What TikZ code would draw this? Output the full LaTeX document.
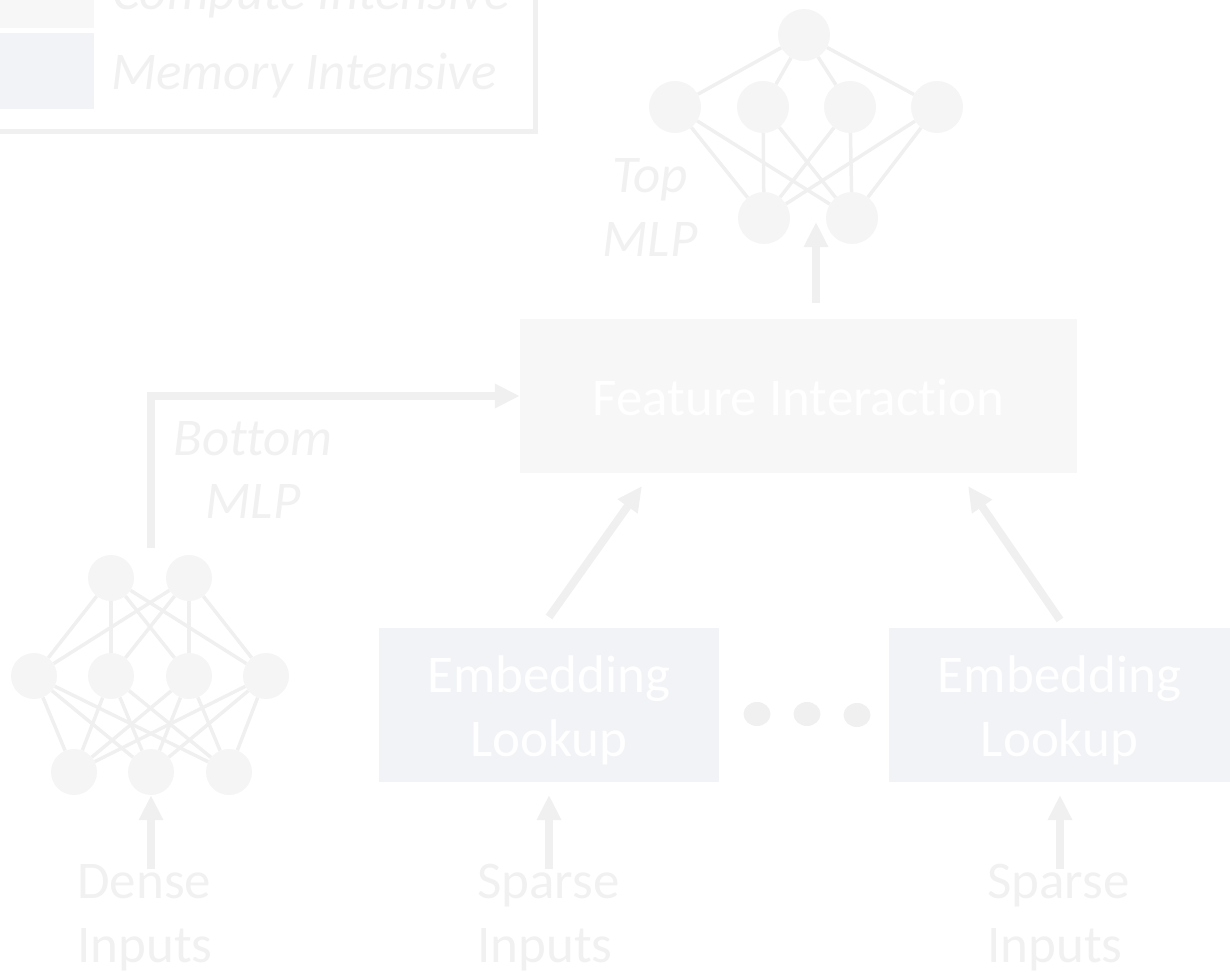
\documentclass[tikz,border=0pt]{standalone}
\usepackage{fontspec}
\setmainfont[Ligatures=CommonOff]{Carlito}
\usetikzlibrary{arrows.meta,shapes.geometric}
\definecolor{cmpfill}{HTML}{F7F7F7}
\definecolor{memfill}{HTML}{F2F3F6}
\definecolor{linecol}{HTML}{F0F0F0}
\definecolor{nodecol}{HTML}{F5F5F5}
\definecolor{txtcol}{HTML}{F1F1F1}
\begin{document}
\begin{tikzpicture}[x=1pt,y=-1pt,
  lbl/.style={font=\fontsize{53}{64}\selectfont, text=txtcol, inner sep=0pt, anchor=base west},
  ilbl/.style={lbl, font=\fontsize{53}{64}\selectfont\itshape},
  neuron/.style={circle, fill=nodecol, minimum size=52pt, inner sep=0pt},
  sneuron/.style={neuron, minimum size=46pt},
  syn/.style={draw=linecol, line width=3.5pt},
  arr/.style={draw=linecol, line width=8pt, -{Triangle[length=25pt,width=23pt]}},
  blockbox/.style={rectangle, inner sep=0pt, minimum height=154pt},
  boxtxt/.style={inner sep=0pt, text=white, font=\fontsize{53}{64}\selectfont, align=center},
  legbox/.style={rectangle, inner sep=0pt, minimum width=94pt, minimum height=76pt},
  dotn/.style={ellipse, fill=linecol, minimum width=27pt, minimum height=24pt, inner sep=0pt}
]
\useasboundingbox (0,0) rectangle (1230,971);

% legend
\node[legbox, fill=cmpfill] (legc) at (47,-10) {};
\node[legbox, fill=memfill] (legm) at (47,71) {};
\node[ilbl] (legct) at (112,10) {Compute Intensive};
\node[ilbl] (legmt) at (111,90) {Memory Intensive};
\draw[draw=linecol, line width=5pt] (-20,-200) rectangle (535,131);

% top MLP
\node[neuron] (t0) at (804,35) {};
\node[neuron] (t1) at (675,107) {};
\node[neuron] (t2) at (763,107) {};
\node[neuron] (t3) at (850,107) {};
\node[neuron] (t4) at (937,107) {};
\node[neuron] (t5) at (764,218) {};
\node[neuron] (t6) at (852,218) {};
\foreach \m in {t1,t2,t3,t4} \draw[syn] (t0) -- (\m);
\foreach \m in {t1,t2,t3,t4} \foreach \b in {t5,t6} \draw[syn] (\m) -- (\b);
\node[ilbl, anchor=base] (toplbl1) at (650,192) {Top};
\node[ilbl, anchor=base] (toplbl2) at (650,256) {MLP};

% bottom MLP
\node[sneuron] (bt1) at (111,578) {};
\node[sneuron] (bt2) at (189,578) {};
\node[sneuron] (bm1) at (34,676) {};
\node[sneuron] (bm2) at (111,676) {};
\node[sneuron] (bm3) at (189,676) {};
\node[sneuron] (bm4) at (266,676) {};
\node[sneuron] (bb1) at (74,772) {};
\node[sneuron] (bb2) at (151,772) {};
\node[sneuron] (bb3) at (229,772) {};
\foreach \a in {bt1,bt2} \foreach \m in {bm1,bm2,bm3,bm4} \draw[syn] (\a) -- (\m);
\foreach \m in {bm1,bm2,bm3,bm4} \foreach \b in {bb1,bb2,bb3} \draw[syn] (\m) -- (\b);
\node[ilbl, anchor=base] (botlbl1) at (253,455) {Bottom};
\node[ilbl, anchor=base] (botlbl2) at (253,518) {MLP};

% blocks
\node[blockbox, fill=cmpfill, minimum width=557pt,
  label={[boxtxt, name=fit, yshift=-1pt]center:Feature Interaction}] (fi) at (798.5,396) {};
\node[blockbox, fill=memfill, minimum width=340pt,
  label={[boxtxt, name=emb1t, yshift=-5.5pt]center:Embedding\\Lookup}] (emb1) at (549,705) {};
\node[blockbox, fill=memfill, minimum width=341pt,
  label={[boxtxt, name=emb2t, yshift=-5.5pt]center:Embedding\\Lookup}] (emb2) at (1059.5,705) {};
\node[dotn] (d1) at (757,714) {};
\node[dotn] (d2) at (807,714) {};
\node[dotn] (d3) at (857,715) {};

% inputs
\node[lbl] (dense1) at (77,898) {Dense};
\node[lbl] (dense2) at (77,962) {Inputs};
\node[lbl] (sp1a) at (477,898) {Sparse};
\node[lbl] (sp1b) at (477,962) {Inputs};
\node[lbl] (sp2a) at (987,898) {Sparse};
\node[lbl] (sp2b) at (987,962) {Inputs};

% connector ends
\coordinate (topA) at (816,303);
\coordinate (topB) at (816,222);
\coordinate (botA) at (151,548);
\coordinate (e1A) at (549,617);
\coordinate (e1B) at (642,486);
\coordinate (e2A) at (1060,620);
\coordinate (e2B) at (968,486);
\coordinate (inD) at (151,869);
\coordinate (inS1) at (549,869);
\coordinate (inS1t) at (549,795);
\coordinate (inS2) at (1060,869);
\coordinate (inS2t) at (1060,795);

% arrows
\draw[arr] (topA) -- (topB);
\draw[arr] (botA) |- (fi.west);
\draw[arr] (e1A) -- (e1B);
\draw[arr] (e2A) -- (e2B);
\draw[arr] (inD) -- (bb2.south);
\draw[arr] (inS1) -- (inS1t);
\draw[arr] (inS2) -- (inS2t);
\end{tikzpicture}
\end{document}
